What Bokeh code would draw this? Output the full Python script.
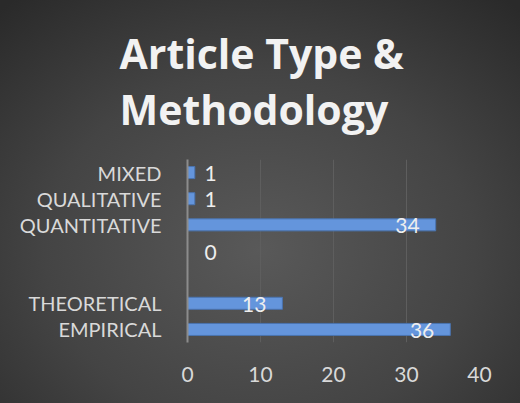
from bokeh.plotting import figure
from bokeh.models import FactorRange, Range1d, Title, FixedTicker, ColumnDataSource
from bokeh.embed import file_html
from bokeh.resources import INLINE
from bokeh.core.properties import value

# data (bottom to top)
categories = ["EMPIRICAL", "THEORETICAL", " ", "  ", "QUANTITATIVE", "QUALITATIVE", "MIXED"]
counts = [36, 13, None, 0, 34, 1, 1]
x_ticks = [0, 10, 20, 30, 40]
title_lines = ["Article Type &", "Methodology"]

FONT = "Lato"
LABEL_COLOR = "#d9d9d9"

p = figure(width=520, height=403, output_backend="svg", toolbar_location=None,
           y_range=FactorRange(factors=categories, range_padding=0),
           x_range=Range1d(0, 40),
           min_border_left=187, min_border_right=41, min_border_bottom=61, min_border_top=158)

p.background_fill_alpha = 0
p.border_fill_alpha = 0
p.outline_line_color = None
p.styles = {"background": "radial-gradient(ellipse 75% 80% at 50% 62%, #595959 0%, #444444 55%, #2a2a2a 100%)"}

p.add_layout(Title(text="\n".join(title_lines), align="left", offset=-68, standoff=45,
                   text_font="Open Sans", text_font_size="41px", text_line_height=1.0,
                   text_font_style="bold", text_color="#f2f2f2"), "above")

bar_cats = [c for c, v in zip(categories, counts) if v is not None]
bar_vals = [v for v in counts if v is not None]
src = ColumnDataSource(dict(y=bar_cats, right=bar_vals))
p.hbar(y="y", left=0, right="right", height=0.46, source=src,
       fill_color="#6495dc", line_color="#4a74b0", line_width=1)

# value labels: inside end for long bars, outside for short ones
inside = ColumnDataSource(dict(y=[c for c, v in zip(bar_cats, bar_vals) if v >= 5],
                               x=[v for v in bar_vals if v >= 5],
                               t=[str(v) for v in bar_vals if v >= 5]))
outside = ColumnDataSource(dict(y=[c for c, v in zip(bar_cats, bar_vals) if v < 5],
                                x=[0 for v in bar_vals if v < 5],
                                t=[str(v) for v in bar_vals if v < 5]))
p.text(x="x", y="y", text="t", source=inside, text_align="right", text_baseline="middle",
       x_offset=-16, y_offset=1, text_font=value(FONT), text_font_size="21px", text_color="#eeeeee")
p.text(x="x", y="y", text="t", source=outside, text_align="center", text_baseline="middle",
       x_offset=23, y_offset=1, text_font=value(FONT), text_font_size="21px", text_color="#eeeeee")

# axes
p.yaxis.axis_line_color = "#8c8c8c"
p.yaxis.axis_line_width = 2
p.yaxis.major_tick_line_color = None
p.yaxis.minor_tick_line_color = None
p.yaxis.major_label_text_font = FONT
p.yaxis.major_label_text_font_size = "20px"
p.yaxis.major_label_text_color = LABEL_COLOR
p.yaxis.major_label_standoff = 20

p.xaxis.axis_line_color = None
p.xaxis.major_tick_line_color = None
p.xaxis.minor_tick_line_color = None
p.xaxis.ticker = FixedTicker(ticks=x_ticks)
p.xaxis.major_label_text_font = FONT
p.xaxis.major_label_text_font_size = "21px"
p.xaxis.major_label_text_color = LABEL_COLOR
p.xaxis.major_label_standoff = 18

p.xgrid.grid_line_color = "#5e5e5e"
p.xgrid.grid_line_width = 1
p.ygrid.grid_line_color = None

open("out.html", "w").write(file_html(p, INLINE))
